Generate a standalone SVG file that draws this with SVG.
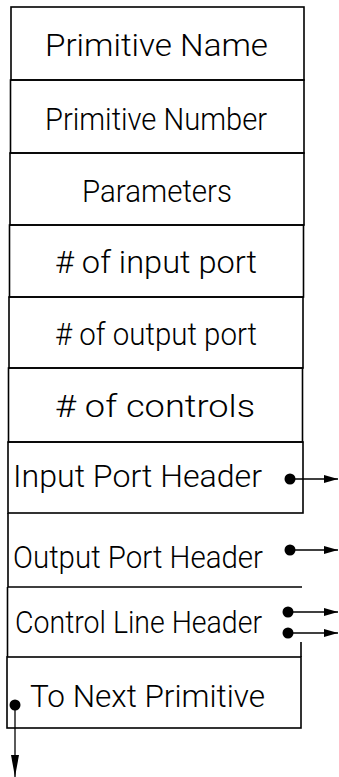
<svg xmlns="http://www.w3.org/2000/svg" width="339" height="777" viewBox="0 0 339 777">
<style>
.box{fill:none;stroke:#000;stroke-width:1.6}
.lbl{font-family:Roboto,"Liberation Sans",Arial,sans-serif;font-weight:300;font-size:32px;fill:#000}
.con{fill:none;stroke:#000;stroke-width:1.3}
.dot{fill:#000}
</style>
<defs>
<marker id="ah" markerUnits="userSpaceOnUse" markerWidth="16" markerHeight="12" refX="14" refY="5" orient="auto">
<path d="M0,1 L14,5 L0,9 Z" fill="#000"/>
</marker>
<marker id="ahd" markerUnits="userSpaceOnUse" markerWidth="24" markerHeight="12" refX="22" refY="5" orient="auto">
<path d="M0,1 L22,5 L0,9 Z" fill="#000"/>
</marker>
</defs>
<rect width="339" height="777" fill="#fff"/>
<g id="n1"><rect class="box" x="11" y="7" width="293" height="73"/><text class="lbl" x="45" y="56" textLength="223" lengthAdjust="spacingAndGlyphs">Primitive Name</text></g>
<g id="n2"><rect class="box" x="10.5" y="80" width="293.5" height="73"/><text class="lbl" x="45" y="130" textLength="222" lengthAdjust="spacingAndGlyphs">Primitive Number</text></g>
<g id="n3"><rect class="box" x="10" y="153" width="294" height="72"/><text class="lbl" x="82" y="202" textLength="150" lengthAdjust="spacingAndGlyphs">Parameters</text></g>
<g id="n4"><rect class="box" x="9.5" y="225" width="294" height="72"/><text class="lbl" x="55" y="273" textLength="202" lengthAdjust="spacingAndGlyphs"># of input port</text></g>
<g id="n5"><rect class="box" x="9" y="297" width="294" height="71"/><text class="lbl" x="55" y="345" textLength="202" lengthAdjust="spacingAndGlyphs"># of output port</text></g>
<g id="n6"><rect class="box" x="8.5" y="368" width="294" height="74"/><text class="lbl" x="55" y="417" textLength="200" lengthAdjust="spacingAndGlyphs"># of controls</text></g>
<g id="n7"><rect class="box" x="8" y="442" width="295" height="71"/><text class="lbl" x="13" y="487" textLength="249" lengthAdjust="spacingAndGlyphs">Input Port Header</text></g>
<g id="n8"><path class="box" d="M8,513 L8,587 L302,587"/><text class="lbl" x="13" y="568" textLength="250" lengthAdjust="spacingAndGlyphs">Output Port Header</text></g>
<g id="n9"><path class="box" d="M7.5,587 L7.5,657 M301,642 L301,657"/><text class="lbl" x="15" y="633" textLength="247" lengthAdjust="spacingAndGlyphs">Control Line Header</text></g>
<g id="n10"><rect class="box" x="7" y="657" width="294" height="71"/><text class="lbl" x="30" y="707" textLength="235" lengthAdjust="spacingAndGlyphs">To Next Primitive</text></g>
<g id="connectors">
<circle class="dot" cx="290" cy="479" r="5.5"/><line class="con" x1="290" y1="479" x2="338" y2="479" marker-end="url(#ah)"/>
<circle class="dot" cx="290" cy="550" r="5.5"/><line class="con" x1="290" y1="550" x2="338" y2="550" marker-end="url(#ah)"/>
<circle class="dot" cx="288" cy="612" r="5.5"/><line class="con" x1="288" y1="612" x2="338" y2="612" marker-end="url(#ah)"/>
<circle class="dot" cx="288" cy="633" r="5.5"/><line class="con" x1="288" y1="633" x2="338" y2="633" marker-end="url(#ah)"/>
<circle class="dot" cx="15" cy="705" r="5.5"/><line class="con" x1="15" y1="705" x2="15" y2="777" marker-end="url(#ahd)"/>
</g>
</svg>
